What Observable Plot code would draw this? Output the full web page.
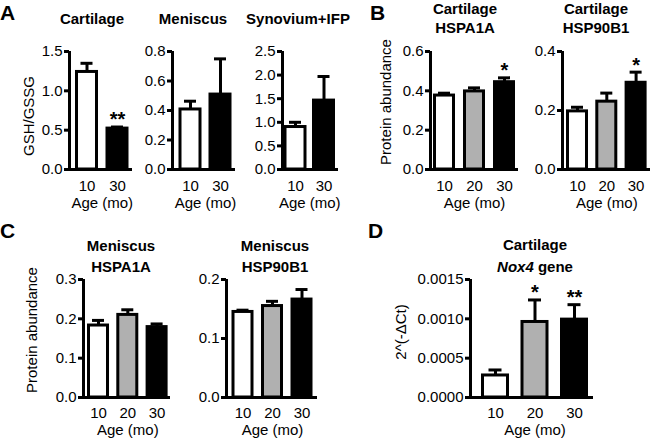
<!DOCTYPE html>
<html>
<head>
<meta charset="utf-8">
<script src="https://cdn.jsdelivr.net/npm/d3@7"></script>
<script src="https://cdn.jsdelivr.net/npm/@observablehq/plot@0.6"></script>
<style>
  html, body { margin: 0; padding: 0; background: white; }
  #fig { position: relative; width: 651px; height: 440px; overflow: hidden; font-family: "Liberation Sans", Arial, Helvetica, sans-serif; }
  #fig svg { position: absolute; left: 0; top: 0; }
</style>
</head>
<body>
<div id="fig"></div>
<script>
// ---------- data ----------
const ages2 = ["10", "30"];
const ages3 = ["10", "20", "30"];
const fills2 = ["white", "black"];
const fills3 = ["white", "#b0b0b0", "black"];

const cartGSH = [1.24, 0.52];
const cartGSHErr = [1.35, 0.54];
const cartGSHStars = ["", "**"];

const menGSH = [0.407, 0.508];
const menGSHErr = [0.463, 0.75];

const synGSH = [0.90, 1.46];
const synGSHErr = [1.0, 1.97];

const cartHSPA1A = [0.376, 0.397, 0.444];
const cartHSPA1AErr = [0.388, 0.415, 0.466];
const cartHSPA1AStars = ["", "", "*"];

const cartHSP90B1 = [0.197, 0.230, 0.294];
const cartHSP90B1Err = [0.211, 0.259, 0.330];
const cartHSP90B1Stars = ["", "", "*"];

const menHSPA1A = [0.183, 0.210, 0.179];
const menHSPA1AErr = [0.196, 0.223, 0.187];

const menHSP90B1 = [0.145, 0.155, 0.166];
const menHSP90B1Err = [0.148, 0.163, 0.183];

const nox4 = [0.00028, 0.00096, 0.00099];
const nox4Err = [0.00035, 0.00124, 0.00118];
const nox4Stars = ["", "*", "**"];

const ticksCartGSH = [0, 0.5, 1.0, 1.5];
const ticksMenGSH = [0, 0.2, 0.4, 0.6, 0.8];
const ticksSynGSH = [0, 0.5, 1.0, 1.5, 2.0, 2.5];
const ticksCartHSPA1A = [0, 0.2, 0.4, 0.6];
const ticksCartHSP90B1 = [0, 0.2, 0.4];
const ticksMenHSPA1A = [0, 0.1, 0.2, 0.3];
const ticksMenHSP90B1 = [0, 0.1, 0.2];
const ticksNox4 = [0, 0.0005, 0.0010, 0.0015];

// ---------- drawing ----------
const W = 651, H = 440;
const FONT = "Liberation Sans, Arial, Helvetica, sans-serif";
const fig = document.getElementById("fig");

function panel(cfg) {
  const {cats, vals, errs, fills, stars, yTicks, fmt, xa, xb, c0, s, yTop, yBot, half, cap, ageDy, pad} = cfg;
  const n = cats.length;
  const data = cats.map((c, i) => ({i, v: vals[i], e: errs[i], fill: fills[i], star: stars ? stars[i] : ""}));
  const hw = half / s, ch = cap / s;
  const xLo = (xa - c0) / s, xHi = (xb - c0) / s;
  const yMax = yTicks[yTicks.length - 1];
  const svg = Plot.plot({
    width: W, height: H,
    marginLeft: xa, marginRight: W - xb, marginTop: yTop, marginBottom: H - yBot,
    x: {type: "linear", domain: [xLo, xHi], axis: null, label: null},
    y: {type: "linear", domain: [0, yMax], axis: null, label: null},
    color: {type: "identity"},
    style: {background: "transparent", color: "black", fontFamily: FONT, fontSize: "15px", overflow: "visible"},
    marks: [
      Plot.ruleX(data, {x: "i", y1: "v", y2: "e", stroke: "black", strokeWidth: 3}),
      Plot.ruleY(data, {y: "e", x1: d => d.i - ch, x2: d => d.i + ch, stroke: "black", strokeWidth: 3}),
      Plot.rectY(data, {x1: d => d.i - hw, x2: d => d.i + hw, y1: 0, y2: "v", fill: "fill", stroke: "black", strokeWidth: 3}),
      Plot.text(data, {x: "i", y: "e", text: "star", dy: -7, fontSize: 20, fontWeight: "bold", fill: "black"}),
      Plot.ruleX([xLo], {y1: 0, y2: yMax, stroke: "black", strokeWidth: 3}),
      Plot.ruleY([0], {x1: xLo, x2: xHi, stroke: "black", strokeWidth: 3}),
      Plot.axisY({ticks: yTicks, tickFormat: fmt, tickSize: 5, tickPadding: 2, fontSize: 15, strokeWidth: 3, fill: "black", stroke: "black", label: null}),
      Plot.axisX({ticks: d3.range(n), tickFormat: i => cats[i], tickSize: 0, tickPadding: pad, fontSize: 15, fill: "black", label: null}),
      Plot.text(["Age (mo)"], {x: () => (n - 1) / 2, frameAnchor: "bottom", lineAnchor: "middle", dy: ageDy, fontSize: 15, fill: "black"})
    ]
  });
  fig.appendChild(svg);
}

const f1 = d3.format(".1f"), f4 = d3.format(".4f");

panel({cats: ages2, vals: cartGSH, errs: cartGSHErr, fills: fills2, stars: cartGSHStars, yTicks: ticksCartGSH, fmt: f1,
  xa: 69, xb: 132, c0: 86.5, s: 30.5, yTop: 51, yBot: 169, half: 10, cap: 6, ageDy: 34, pad: 11});
panel({cats: ages2, vals: menGSH, errs: menGSHErr, fills: fills2, stars: null, yTicks: ticksMenGSH, fmt: f1,
  xa: 172, xb: 235, c0: 190, s: 30, yTop: 51, yBot: 169, half: 10, cap: 6, ageDy: 34, pad: 11});
panel({cats: ages2, vals: synGSH, errs: synGSHErr, fills: fills2, stars: null, yTicks: ticksSynGSH, fmt: f1,
  xa: 282, xb: 338, c0: 295, s: 28.5, yTop: 51, yBot: 169, half: 10, cap: 6, ageDy: 34, pad: 11});
panel({cats: ages3, vals: cartHSPA1A, errs: cartHSPA1AErr, fills: fills3, stars: cartHSPA1AStars, yTicks: ticksCartHSPA1A, fmt: f1,
  xa: 430, xb: 518, c0: 444, s: 30, yTop: 51, yBot: 169, half: 9.5, cap: 6, ageDy: 34, pad: 11});
panel({cats: ages3, vals: cartHSP90B1, errs: cartHSP90B1Err, fills: fills3, stars: cartHSP90B1Stars, yTicks: ticksCartHSP90B1, fmt: f1,
  xa: 562, xb: 650, c0: 577, s: 29.3, yTop: 51, yBot: 169, half: 9.5, cap: 6, ageDy: 34, pad: 11});
panel({cats: ages3, vals: menHSPA1A, errs: menHSPA1AErr, fills: fills3, stars: null, yTicks: ticksMenHSPA1A, fmt: f1,
  xa: 83, xb: 170, c0: 98, s: 29.3, yTop: 279, yBot: 397, half: 9.5, cap: 6, ageDy: 33, pad: 10});
panel({cats: ages3, vals: menHSP90B1, errs: menHSP90B1Err, fills: fills3, stars: null, yTicks: ticksMenHSP90B1, fmt: f1,
  xa: 226, xb: 317, c0: 242.5, s: 29.5, yTop: 279, yBot: 397, half: 9.5, cap: 6, ageDy: 33, pad: 10});
panel({cats: ages3, vals: nox4, errs: nox4Err, fills: fills3, stars: nox4Stars, yTicks: ticksNox4, fmt: f4,
  xa: 470, xb: 593, c0: 495, s: 39.5, yTop: 279, yBot: 397, half: 12.5, cap: 6.5, ageDy: 33, pad: 10});

// ---------- annotations: panel letters, titles, axis labels ----------
const ann = d3.select(fig).append("svg").attr("width", W).attr("height", H)
  .attr("font-family", FONT).attr("fill", "black");

const letters = [["A", 0, 20], ["B", 370, 20], ["C", 0, 238], ["D", 368, 238]];
ann.selectAll("text.letter").data(letters).join("text").attr("class", "letter")
  .attr("x", d => d[1]).attr("y", d => d[2]).attr("font-size", 21).attr("font-weight", "bold").text(d => d[0]);

const titles = [
  ["Cartilage", 92, 24], ["Meniscus", 193, 24], ["Synovium+IFP", 298, 24],
  ["Cartilage", 465, 14], ["HSPA1A", 465, 33], ["Cartilage", 596, 14], ["HSP90B1", 596, 33],
  ["Meniscus", 121, 251], ["HSPA1A", 121, 272], ["Meniscus", 275, 251], ["HSP90B1", 275, 272],
  ["Cartilage", 535, 250]
];
ann.selectAll("text.title").data(titles).join("text").attr("class", "title")
  .attr("x", d => d[1]).attr("y", d => d[2]).attr("text-anchor", "middle")
  .attr("font-size", 15).attr("font-weight", "bold").text(d => d[0]);
const nox = ann.append("text").attr("x", 535).attr("y", 272).attr("text-anchor", "middle")
  .attr("font-size", 15).attr("font-weight", "bold");
nox.append("tspan").attr("font-style", "italic").text("Nox4");
nox.append("tspan").text(" gene");

const ylabels = [["GSH/GSSG", 34, 116], ["Protein abundance", 391, 102], ["Protein abundance", 37, 330], ["2^(-ΔCt)", 406, 332]];
ann.selectAll("text.ylab").data(ylabels).join("text").attr("class", "ylab")
  .attr("transform", d => `translate(${d[1]},${d[2]}) rotate(-90)`)
  .attr("text-anchor", "middle").attr("font-size", 15).text(d => d[0]);
</script>
</body>
</html>
